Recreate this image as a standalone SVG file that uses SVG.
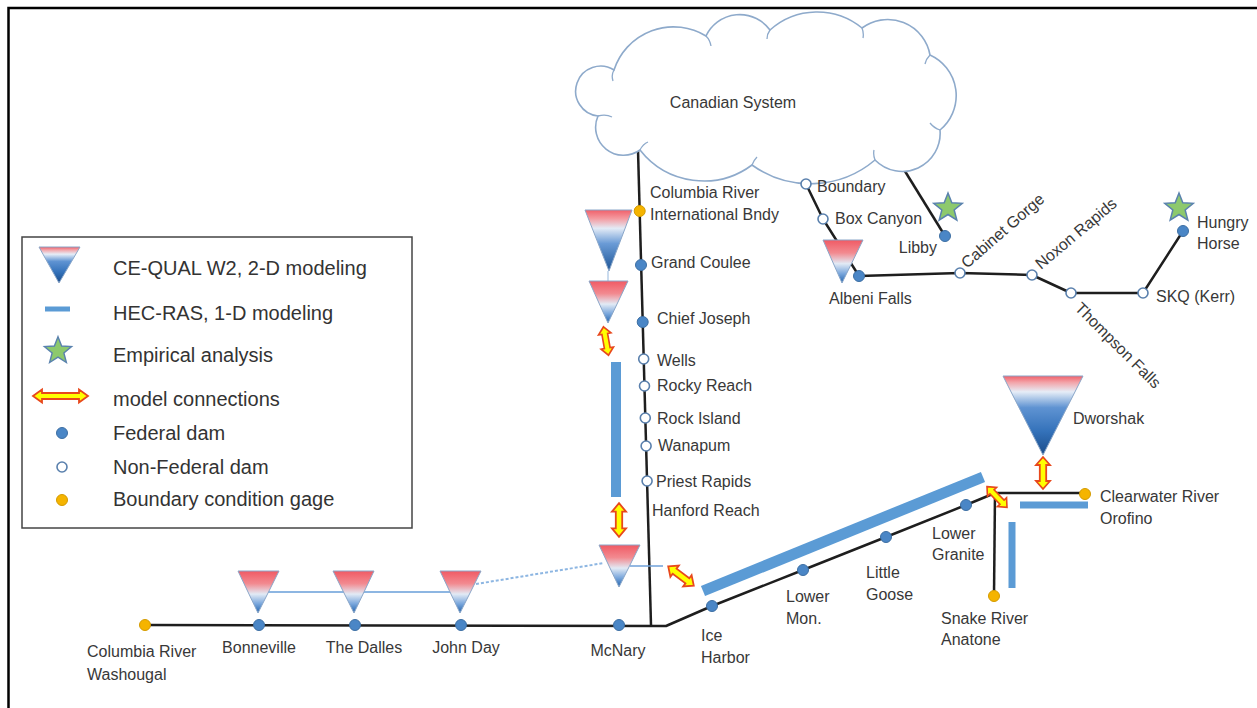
<svg xmlns="http://www.w3.org/2000/svg" width="1257" height="708" viewBox="0 0 1257 708">
<style>
.lbl{font-family:"Liberation Sans",Arial,sans-serif;font-size:16px;fill:#383838}
.leg{font-family:"Liberation Sans",Arial,sans-serif;font-size:20px;fill:#333}
.river{fill:none;stroke:#1e1e1e;stroke-width:2.5;stroke-linejoin:round}
.fed{fill:#4a86c6;stroke:#3d6fa3;stroke-width:1}
.non{fill:#fff;stroke:#5a80ad;stroke-width:1.6}
.gage{fill:#f5b400;stroke:#d49b00;stroke-width:1}
.bar{stroke:#5b9bd5;fill:none}
.tri{stroke:#8aa6c8;stroke-width:1}
.arr{fill:#ffff00;stroke:#e8481c;stroke-width:1.8;stroke-linejoin:miter}
.star{fill:#8dc96d;stroke:#5a82ae;stroke-width:1.5;stroke-linejoin:miter}
.thin{fill:none;stroke:#8db6e2;stroke-width:2}
</style>
<defs>
<linearGradient id="gBig" x1="0" y1="0" x2="0" y2="1">
<stop offset="0" stop-color="#f0606a"/>
<stop offset="0.14" stop-color="#f49aa0"/>
<stop offset="0.3" stop-color="#e3ebf6"/>
<stop offset="0.55" stop-color="#6a9bd6"/>
<stop offset="1" stop-color="#1d5596"/>
</linearGradient>
<linearGradient id="gDeep" x1="0" y1="0" x2="0" y2="1">
<stop offset="0" stop-color="#f0606a"/>
<stop offset="0.08" stop-color="#f3a3a8"/>
<stop offset="0.2" stop-color="#e6edf7"/>
<stop offset="0.4" stop-color="#5f93d2"/>
<stop offset="0.7" stop-color="#3472ba"/>
<stop offset="1" stop-color="#1a4c8a"/>
</linearGradient>
<linearGradient id="gSmall" x1="0" y1="0" x2="0" y2="1">
<stop offset="0" stop-color="#f05a64"/>
<stop offset="0.3" stop-color="#f28a90"/>
<stop offset="0.55" stop-color="#e2eaf5"/>
<stop offset="0.78" stop-color="#7aa7dc"/>
<stop offset="1" stop-color="#2062ac"/>
</linearGradient>
<path id="arrow" class="arr" d="M-16,0 L-8,-7 L-8,-3.2 L8,-3.2 L8,-7 L16,0 L8,7 L8,3.2 L-8,3.2 L-8,7 Z"/>
<polygon id="star" class="star" points="0,-15 3.82,-5.26 14.27,-4.64 6.18,2.01 8.82,12.14 0,6.5 -8.82,12.14 -6.18,2.01 -14.27,-4.64 -3.82,-5.26"/>
</defs>
<rect width="1257" height="708" fill="#fff"/>
<path d="M8.5,708 V8 H1257" fill="none" stroke="#000" stroke-width="2.5"/>

<g id="connectors">
<path class="river" d="M638,150 L651,625"/>
<path class="river" d="M145,625 L666,626 L712,606 L803,570 L886,537 L966,505 L995,493 L1085,493"/>
<path class="river" d="M995,493 L994,596"/>
<path class="river" d="M903,168 L945,236"/>
<path class="river" d="M806,184 L823,219 L859,276 L960,273 L1032,275 L1071,293 L1143,293 L1183,231"/>
<path class="thin" d="M268,592 L468,592"/>
<path d="M476,584 L604,563" fill="none" stroke="#8db6e2" stroke-width="2" stroke-dasharray="3,2"/>
<path d="M630,566 L663,566" fill="none" stroke="#6fa0d8" stroke-width="1.5"/>
<path d="M608,271 L608,281" fill="none" stroke="#b9cfe8" stroke-width="1.5"/>
<use href="#arrow" transform="translate(606,341) rotate(80) scale(0.9)"/>
<use href="#arrow" transform="translate(619,520) rotate(90) scale(1.05,1)"/>
<use href="#arrow" transform="translate(681,576) rotate(37)"/>
<use href="#arrow" transform="translate(1043,473) rotate(90)"/>
<use href="#arrow" transform="translate(997,497) rotate(46) scale(0.9)"/>
</g>

<g id="canadian-system">
<path d="M598,116 A25,25 0 1 1 614,70 A62.5,62.5 0 0 1 706,36 A37.4,37.4 0 0 1 770,30 A70.7,70.7 0 0 1 862,28 A43,43 0 0 1 930,55 A44.6,44.6 0 0 1 940,130 A38,38 0 0 1 875,160 A100,100 0 0 1 752,165 A81,81 0 0 1 640,150 A28,28 0 0 1 598,116 Z" fill="#fff" stroke="#8eaacb" stroke-width="1.6"/>
<path d="M614,70 q-3,5 -1,11 M706,36 q4,4 5,10 M770,30 q-3,4 -3,9 M862,28 q2,5 1,10 M930,55 q-4,4 -5,9 M940,130 q-6,-2 -10,-7 M875,160 q-2,-5 -1,-10 M752,165 q2,-5 5,-8 M640,150 q3,-6 8,-8 M598,116 q8,-2 14,1" fill="none" stroke="#8eaacb" stroke-width="1.3"/>
<text class="lbl" x="733" y="108" text-anchor="middle">Canadian System</text>
</g>

<g id="hec-ras-bars">
<line class="bar" x1="616" y1="362" x2="616" y2="497" stroke-width="10"/>
<line class="bar" x1="703" y1="591" x2="983" y2="477" stroke-width="11"/>
<line class="bar" x1="1020" y1="505" x2="1088" y2="505" stroke-width="7"/>
<line class="bar" x1="1012" y1="522" x2="1012" y2="588" stroke-width="7"/>
</g>

<g id="intl-bndy">
<polygon class="tri" points="585,210 632,210 609,271" fill="url(#gBig)"/>
<circle class="gage" cx="639.7" cy="211" r="5.5"/>
<text class="lbl" x="650" y="198">Columbia River</text>
<text class="lbl" x="650" y="220">International Bndy</text>
</g>
<g id="grand-coulee">
<circle class="fed" cx="641" cy="265" r="5.5"/>
<text class="lbl" x="651" y="268">Grand Coulee</text>
</g>
<g id="chief-joseph">
<polygon class="tri" points="589,281 628,281 608,323" fill="url(#gSmall)"/>
<circle class="fed" cx="642.7" cy="322" r="5.5"/>
<text class="lbl" x="657" y="324">Chief Joseph</text>
</g>
<g id="wells">
<circle class="non" cx="643.7" cy="359" r="5"/>
<text class="lbl" x="657" y="366">Wells</text>
</g>
<g id="rocky-reach">
<circle class="non" cx="644.5" cy="386" r="5"/>
<text class="lbl" x="657" y="391">Rocky Reach</text>
</g>
<g id="rock-island">
<circle class="non" cx="645.3" cy="418" r="5"/>
<text class="lbl" x="657" y="424">Rock Island</text>
</g>
<g id="wanapum">
<circle class="non" cx="646.1" cy="446" r="5"/>
<text class="lbl" x="658" y="451">Wanapum</text>
</g>
<g id="priest-rapids">
<circle class="non" cx="647.1" cy="481" r="5"/>
<text class="lbl" x="656" y="487">Priest Rapids</text>
</g>
<g id="hanford-reach">
<text class="lbl" x="652" y="516">Hanford Reach</text>
</g>

<g id="mcnary">
<polygon class="tri" points="599,545 640,545 619,587" fill="url(#gSmall)"/>
<circle class="fed" cx="619" cy="625" r="5.5"/>
<text class="lbl" x="618" y="656" text-anchor="middle">McNary</text>
</g>
<g id="washougal">
<circle class="gage" cx="145" cy="625" r="5.5"/>
<text class="lbl" x="87" y="657">Columbia River</text>
<text class="lbl" x="87" y="680">Washougal</text>
</g>
<g id="bonneville">
<polygon class="tri" points="238,571 279,571 258,613" fill="url(#gSmall)"/>
<circle class="fed" cx="259" cy="625" r="5.5"/>
<text class="lbl" x="259" y="653" text-anchor="middle">Bonneville</text>
</g>
<g id="the-dalles">
<polygon class="tri" points="333,571 374,571 354,613" fill="url(#gSmall)"/>
<circle class="fed" cx="355" cy="625" r="5.5"/>
<text class="lbl" x="364" y="653" text-anchor="middle">The Dalles</text>
</g>
<g id="john-day">
<polygon class="tri" points="440,571 481,571 460,613" fill="url(#gSmall)"/>
<circle class="fed" cx="461" cy="625" r="5.5"/>
<text class="lbl" x="466" y="653" text-anchor="middle">John Day</text>
</g>

<g id="ice-harbor">
<circle class="fed" cx="712" cy="606" r="5.5"/>
<text class="lbl" x="701" y="641">Ice</text>
<text class="lbl" x="701" y="663">Harbor</text>
</g>
<g id="lower-mon">
<circle class="fed" cx="803" cy="570" r="5.5"/>
<text class="lbl" x="786" y="602">Lower</text>
<text class="lbl" x="786" y="624">Mon.</text>
</g>
<g id="little-goose">
<circle class="fed" cx="886" cy="537" r="5.5"/>
<text class="lbl" x="866" y="578">Little</text>
<text class="lbl" x="866" y="600">Goose</text>
</g>
<g id="lower-granite">
<circle class="fed" cx="966" cy="505" r="5.5"/>
<text class="lbl" x="932" y="539">Lower</text>
<text class="lbl" x="932" y="560">Granite</text>
</g>
<g id="snake-river-anatone">
<circle class="gage" cx="994" cy="596" r="5.5"/>
<text class="lbl" x="941" y="624">Snake River</text>
<text class="lbl" x="941" y="645">Anatone</text>
</g>
<g id="clearwater-orofino">
<circle class="gage" cx="1085" cy="494" r="5.5"/>
<text class="lbl" x="1100" y="502">Clearwater River</text>
<text class="lbl" x="1100" y="524">Orofino</text>
</g>
<g id="dworshak">
<polygon class="tri" points="1003,376 1083,376 1043,455" fill="url(#gDeep)"/>
<text class="lbl" x="1073" y="424">Dworshak</text>
</g>

<g id="boundary">
<circle class="non" cx="806" cy="184" r="5"/>
<text class="lbl" x="817" y="192">Boundary</text>
</g>
<g id="box-canyon">
<circle class="non" cx="823" cy="219" r="5"/>
<text class="lbl" x="835" y="224">Box Canyon</text>
</g>
<g id="libby">
<use href="#star" transform="translate(948,208)"/>
<circle class="fed" cx="945" cy="236" r="5.5"/>
<text class="lbl" x="937" y="253" text-anchor="end">Libby</text>
</g>
<g id="albeni-falls">
<polygon class="tri" points="823,240 863,240 842,283" fill="url(#gSmall)"/>
<circle class="fed" cx="859" cy="276" r="5.5"/>
<text class="lbl" x="829" y="304">Albeni Falls</text>
</g>
<g id="cabinet-gorge">
<circle class="non" cx="960" cy="273" r="5"/>
<text class="lbl" transform="translate(967,269) rotate(-41)">Cabinet Gorge</text>
</g>
<g id="noxon-rapids">
<circle class="non" cx="1032" cy="275" r="5"/>
<text class="lbl" transform="translate(1041,270) rotate(-40)">Noxon Rapids</text>
</g>
<g id="thompson-falls">
<circle class="non" cx="1071" cy="293" r="5"/>
<text class="lbl" transform="translate(1074,309) rotate(45)">Thompson Falls</text>
</g>
<g id="skq-kerr">
<circle class="non" cx="1143" cy="293" r="5"/>
<text class="lbl" x="1156" y="302">SKQ (Kerr)</text>
</g>
<g id="hungry-horse">
<use href="#star" transform="translate(1179,208)"/>
<circle class="fed" cx="1183" cy="231" r="5.5"/>
<text class="lbl" x="1197" y="228">Hungry</text>
<text class="lbl" x="1197" y="249">Horse</text>
</g>

<g id="legend">
<rect x="22" y="237" width="390" height="291" fill="#fff" stroke="#444" stroke-width="1.5"/>
<polygon class="tri" points="39,247 80,247 59,283" fill="url(#gDeep)"/>
<text class="leg" x="113" y="275">CE-QUAL W2, 2-D modeling</text>
<line class="bar" x1="45" y1="309" x2="70" y2="309" stroke-width="5"/>
<text class="leg" x="113" y="320">HEC-RAS, 1-D modeling</text>
<use href="#star" transform="translate(58,351) scale(0.95)"/>
<text class="leg" x="113" y="362">Empirical analysis</text>
<path class="arr" d="M33,396 L42,389.5 L42,393 L79,393 L79,389.5 L88,396 L79,402.5 L79,399 L42,399 L42,402.5 Z"/>
<text class="leg" x="113" y="406">model connections</text>
<circle class="fed" cx="62" cy="433" r="5.5"/>
<text class="leg" x="113" y="440">Federal dam</text>
<circle class="non" cx="62" cy="467" r="5"/>
<text class="leg" x="113" y="474">Non-Federal dam</text>
<circle class="gage" cx="62" cy="500" r="5.5"/>
<text class="leg" x="113" y="506">Boundary condition gage</text>
</g>
</svg>
